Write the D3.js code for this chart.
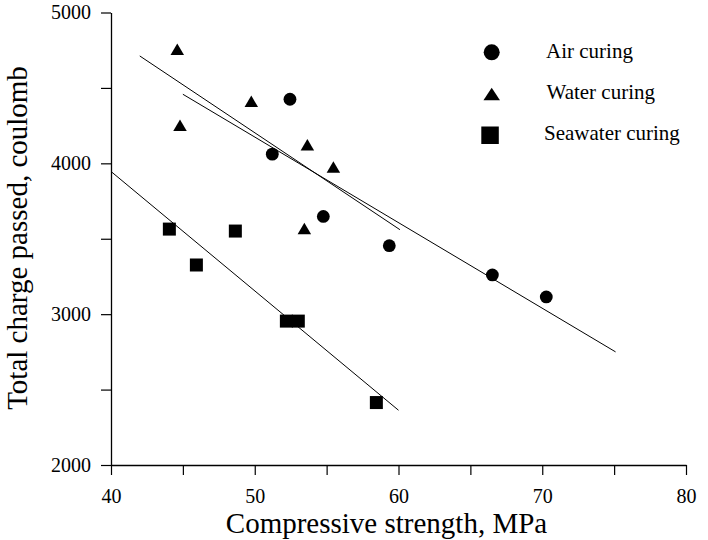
<!DOCTYPE html>
<html>
<head>
<meta charset="utf-8">
<script src="https://cdn.jsdelivr.net/npm/d3@7"></script>
<style>
  html, body { margin: 0; padding: 0; background: #fff; }
  svg { display: block; }
  text { font-family: "Liberation Serif", "Times New Roman", serif; fill: #000; }
</style>
</head>
<body>
<svg id="chart" width="708" height="540"></svg>
<script>
// ---- Data ----
const airX = [52.45, 51.22, 54.77, 59.36, 66.53, 70.28];
const airY = [4425, 4061, 3648, 3454, 3260, 3114];

const waterX = [44.61, 49.76, 44.8, 53.66, 55.47, 53.45];
const waterY = [4752, 4407, 4248, 4120, 3972, 3564];

const seaX = [44.06, 48.65, 45.94, 52.2, 53.03, 58.46];
const seaY = [3564, 3551, 3326, 2954, 2954, 2414];

// regression lines: [x1, y1, x2, y2]
const lineWater = [42.0, 4712, 60.1, 3560];
const lineAir = [45.0, 4458, 75.1, 2750];
const lineSea = [40.0, 3946, 60.0, 2363];

const xTicks = [40, 45, 50, 55, 60, 65, 70, 75, 80];
const xTickLabels = ["40", "", "50", "", "60", "", "70", "", "80"];
const yTicks = [2000, 2500, 3000, 3500, 4000, 4500, 5000];
const yTickLabels = ["2000", "", "3000", "", "4000", "", "5000"];

const legendLabels = ["Air curing", "Water curing", "Seawater curing"];
const xTitle = "Compressive strength, MPa";
const yTitle = "Total charge passed, coulomb";

// ---- Layout ----
const svg = d3.select("#chart");
const mLeft = 111, mRight = 686, mTop = 12.5, mBottom = 465;

const x = d3.scaleLinear().domain([40, 80]).range([mLeft, mRight]);
const y = d3.scaleLinear().domain([2000, 5000]).range([mBottom, mTop]);

// Axes
const xAxis = d3.axisBottom(x).tickValues(xTicks)
  .tickFormat((d, i) => xTickLabels[i]).tickSize(10).tickSizeOuter(0).tickPadding(14);
const yAxis = d3.axisLeft(y).tickValues(yTicks)
  .tickFormat((d, i) => yTickLabels[i]).tickSize(10).tickSizeOuter(0).tickPadding(10);

const gx = svg.append("g").attr("transform", `translate(0,${mBottom})`).call(xAxis);
const gy = svg.append("g").attr("transform", `translate(${mLeft},0)`).call(yAxis);
[gx, gy].forEach(g => {
  g.select(".domain").attr("stroke", "#000").attr("stroke-width", 1.3);
  g.selectAll(".tick line").attr("stroke", "#000").attr("stroke-width", 1.2);
  g.selectAll(".tick text").attr("font-family", "Liberation Serif, serif")
    .attr("font-size", 20).attr("fill", "#000");
});

// Titles
svg.append("text")
  .attr("x", (mLeft + mRight) / 2 - 12).attr("y", 533)
  .attr("text-anchor", "middle").attr("font-size", 29)
  .text(xTitle);

svg.append("text")
  .attr("transform", `translate(27,238) rotate(-90)`)
  .attr("text-anchor", "middle").attr("font-size", 29)
  .text(yTitle);

// Regression lines
const lines = [lineWater, lineAir, lineSea];
svg.append("g").selectAll("line").data(lines).join("line")
  .attr("x1", d => x(d[0])).attr("y1", d => y(d[1]))
  .attr("x2", d => x(d[2])).attr("y2", d => y(d[3]))
  .attr("stroke", "#000").attr("stroke-width", 1);

// Marker shapes
const triPath = (cx, cy, w, h) =>
  `M${cx},${cy - h * 0.55}L${cx + w / 2},${cy + h * 0.45}L${cx - w / 2},${cy + h * 0.45}Z`;
const sq = 13;

const air = d3.zip(airX, airY);
const water = d3.zip(waterX, waterY);
const sea = d3.zip(seaX, seaY);

svg.append("g").selectAll("circle").data(air).join("circle")
  .attr("cx", d => x(d[0])).attr("cy", d => y(d[1])).attr("r", 6.4).attr("fill", "#000");

svg.append("g").selectAll("path").data(water).join("path")
  .attr("d", d => triPath(x(d[0]), y(d[1]), 13.5, 11.5)).attr("fill", "#000");

svg.append("g").selectAll("rect").data(sea).join("rect")
  .attr("x", d => x(d[0]) - sq / 2).attr("y", d => y(d[1]) - sq / 2)
  .attr("width", sq).attr("height", sq).attr("fill", "#000");

// Legend
const lg = svg.append("g");
lg.append("circle").attr("cx", 491.7).attr("cy", 52.3).attr("r", 8).attr("fill", "#000");
lg.append("path").attr("d", triPath(491.7, 94.5, 16.5, 12.5)).attr("fill", "#000");
lg.append("rect").attr("x", 481.3).attr("y", 126.5).attr("width", 17.5).attr("height", 17.5).attr("fill", "#000");

const legendPos = [[546, 57.5], [546.5, 99], [544, 139.5]];
lg.selectAll("text.lbl").data(legendLabels).join("text").attr("class", "lbl")
  .attr("x", (d, i) => legendPos[i][0]).attr("y", (d, i) => legendPos[i][1])
  .attr("font-size", 21).text(d => d);
</script>
</body>
</html>
